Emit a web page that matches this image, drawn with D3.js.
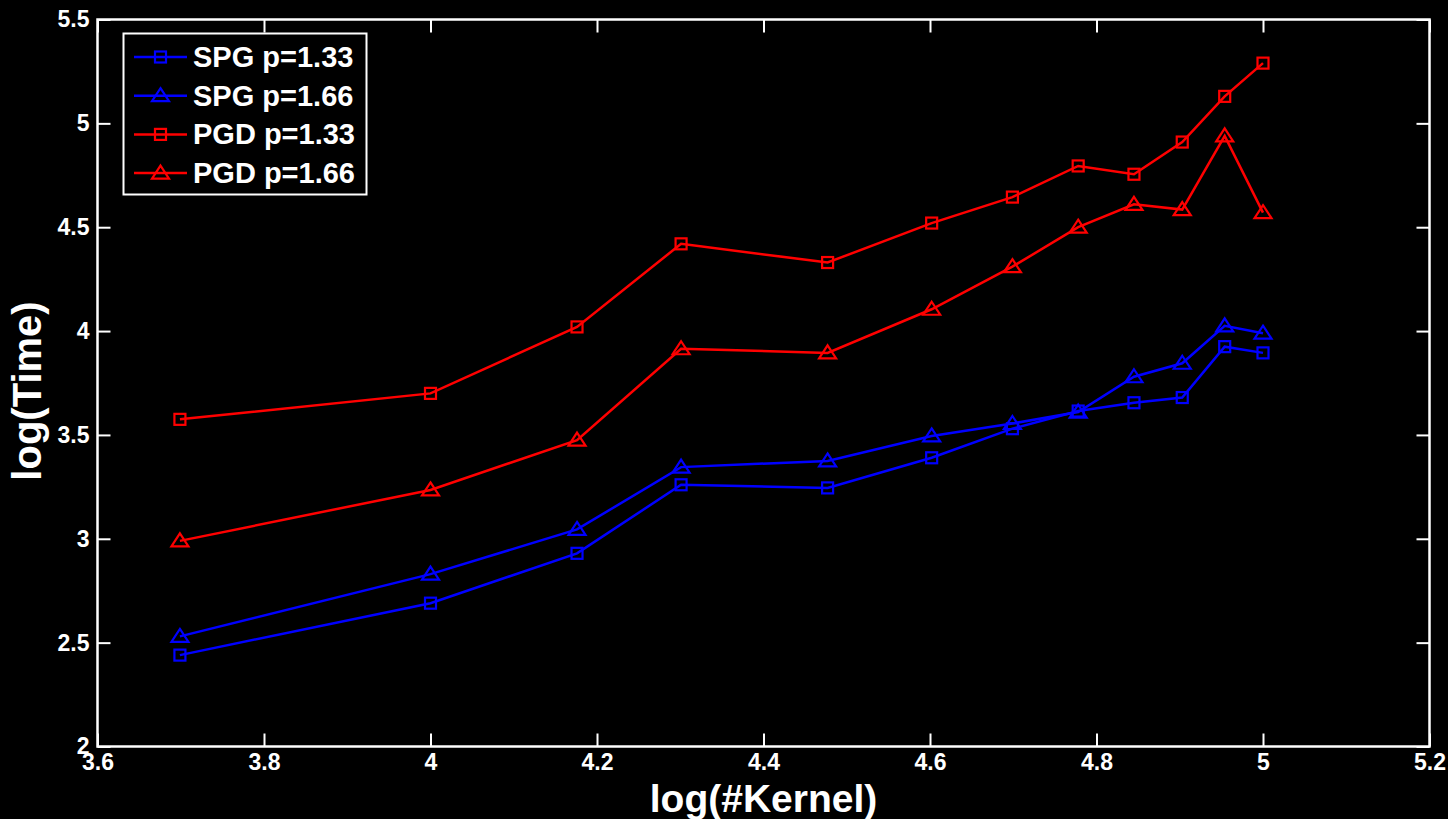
<!DOCTYPE html>
<html>
<head>
<meta charset="utf-8">
<script src="https://cdn.jsdelivr.net/npm/d3@7"></script>
<style>
  html, body { margin: 0; padding: 0; background: #000; }
  svg { display: block; }
  text { font-family: Arial, "Liberation Sans", sans-serif; font-weight: bold; fill: #fff; }
</style>
</head>
<body>
<svg id="chart" width="1448" height="819"></svg>
<script>
// log10 of kernel counts (5k .. 100k)
const logKernel = [3.699, 4.0, 4.176, 4.301, 4.477, 4.602, 4.699, 4.778, 4.845, 4.903, 4.954, 5.0];

// log10 of run time for each method / p value
const spg133 = [2.44, 2.69, 2.93, 3.26, 3.245, 3.39, 3.53, 3.615, 3.655, 3.68, 3.925, 3.895];
const spg166 = [2.53, 2.83, 3.045, 3.345, 3.375, 3.495, 3.555, 3.61, 3.78, 3.845, 4.025, 3.99];
const pgd133 = [3.575, 3.70, 4.02, 4.42, 4.33, 4.52, 4.645, 4.795, 4.755, 4.91, 5.13, 5.29];
const pgd166 = [2.99, 3.235, 3.475, 3.915, 3.895, 4.105, 4.31, 4.50, 4.61, 4.585, 4.94, 4.57];

const seriesNames = ["SPG p=1.33", "SPG p=1.66", "PGD p=1.33", "PGD p=1.66"];
const seriesValues = [spg133, spg166, pgd133, pgd166];
const seriesColors = ["#0000ff", "#0000ff", "#ff0000", "#ff0000"];
const seriesMarkers = ["square", "triangle", "square", "triangle"];

const xTicks = [3.6, 3.8, 4.0, 4.2, 4.4, 4.6, 4.8, 5.0, 5.2];
const yTicks = [2, 2.5, 3, 3.5, 4, 4.5, 5, 5.5];
const xLabel = "log(#Kernel)";
const yLabel = "log(Time)";

const svg = d3.select("#chart");
const plotLeft = 97.5, plotRight = 1429.5, plotTop = 19.5, plotBottom = 746.5;

const x = d3.scaleLinear().domain([3.6, 5.2]).range([plotLeft, plotRight]);
const y = d3.scaleLinear().domain([2, 5.5]).range([plotBottom, plotTop]);

const tickLen = 13;

// axes: ticks point inward, labels on bottom and left
const xAxis = svg.append("g").attr("transform", `translate(0,${plotBottom})`)
  .call(d3.axisBottom(x).tickValues(xTicks).tickSize(-tickLen).tickPadding(5)
    .tickFormat(d3.format("~g")));
const yAxis = svg.append("g").attr("transform", `translate(${plotLeft},0)`)
  .call(d3.axisLeft(y).tickValues(yTicks).tickSize(-tickLen).tickPadding(8)
    .tickFormat(d3.format("~g")));
const xAxisTop = svg.append("g").attr("transform", `translate(0,${plotTop})`)
  .call(d3.axisTop(x).tickValues(xTicks).tickSize(-tickLen).tickFormat(""));
const yAxisRight = svg.append("g").attr("transform", `translate(${plotRight},0)`)
  .call(d3.axisRight(y).tickValues(yTicks).tickSize(-tickLen).tickFormat(""));

[xAxis, yAxis, xAxisTop, yAxisRight].forEach(g => {
  g.select(".domain").remove();
  g.selectAll(".tick line").attr("stroke", "#fff").attr("stroke-width", 2);
  g.selectAll(".tick text").attr("fill", "#fff").style("font-size", "23px")
    .style("font-weight", "bold").style("font-family", "Arial, 'Liberation Sans', sans-serif");
});
xAxis.selectAll(".tick text").attr("dy", "0.8em");

// plot frame
svg.append("rect")
  .attr("x", plotLeft).attr("y", plotTop)
  .attr("width", plotRight - plotLeft).attr("height", plotBottom - plotTop)
  .attr("fill", "none").attr("stroke", "#fff").attr("stroke-width", 2.5);

// marker shapes
function drawMarker(g, kind, cx, cy, color) {
  if (kind === "square") {
    g.append("rect")
      .attr("x", cx - 5.5).attr("y", cy - 5.5)
      .attr("width", 11).attr("height", 11)
      .attr("fill", "none").attr("stroke", color).attr("stroke-width", 2.2);
  } else {
    g.append("path")
      .attr("d", `M${cx},${cy - 7.5} L${cx + 8.5},${cy + 5.5} L${cx - 8.5},${cy + 5.5} Z`)
      .attr("fill", "none").attr("stroke", color).attr("stroke-width", 2.2)
      .attr("stroke-linejoin", "miter");
  }
}

const line = d3.line().x(d => x(d[0])).y(d => y(d[1]));

seriesValues.forEach((vals, i) => {
  const pts = logKernel.map((k, j) => [k, vals[j]]);
  const g = svg.append("g");
  g.append("path").datum(pts)
    .attr("d", line)
    .attr("fill", "none").attr("stroke", seriesColors[i]).attr("stroke-width", 2.5);
  pts.forEach(p => drawMarker(g, seriesMarkers[i], x(p[0]), y(p[1]), seriesColors[i]));
});

// legend
const legend = svg.append("g");
legend.append("rect")
  .attr("x", 123.5).attr("y", 33.5).attr("width", 243).attr("height", 161)
  .attr("fill", "#000").attr("stroke", "#fff").attr("stroke-width", 2);
seriesNames.forEach((name, i) => {
  const ly = 57 + i * 38.7;
  legend.append("line")
    .attr("x1", 134).attr("x2", 187).attr("y1", ly).attr("y2", ly)
    .attr("stroke", seriesColors[i]).attr("stroke-width", 2.5);
  drawMarker(legend, seriesMarkers[i], 160.5, ly, seriesColors[i]);
  legend.append("text")
    .attr("x", 193).attr("y", ly + 10)
    .style("font-size", "29px")
    .text(name);
});

// axis titles
svg.append("text")
  .attr("x", (plotLeft + plotRight) / 2).attr("y", 812)
  .attr("text-anchor", "middle")
  .style("font-size", "39px")
  .text(xLabel);
svg.append("text")
  .attr("transform", `translate(41,391) rotate(-90)`)
  .attr("text-anchor", "middle")
  .style("font-size", "40px")
  .text(yLabel);
</script>
</body>
</html>
